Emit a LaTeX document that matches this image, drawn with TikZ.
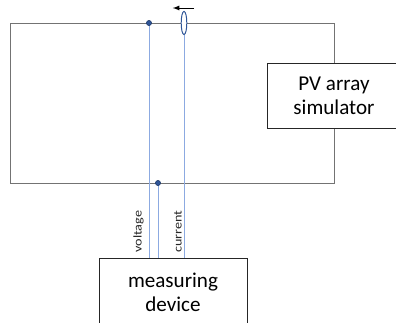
\documentclass[tikz,border=0pt]{standalone}
\usepackage{fontspec}
\setmainfont{Carlito}
\newfontfamily\labelfont[FakeStretch=1.2]{Carlito}
\usetikzlibrary{shapes.geometric}
\definecolor{probeblue}{RGB}{140,170,225}
\definecolor{dotblue}{RGB}{47,85,151}
\tikzset{
	wire/.style={draw=black!55, line width=.6pt},
	probe/.style={draw=probeblue, line width=.7pt},
	box/.style={draw=black!85, fill=white, line width=.7pt, inner sep=0pt, align=center, font=\fontsize{15}{17}\selectfont},
	dot/.style={circle, fill=dotblue, draw=dotblue!70!black, inner sep=0pt, minimum size=1.3mm},
	probelabel/.style={rotate=90, inner sep=0pt, text=black!85, font=\labelfont\fontsize{8.4}{10}\selectfont},
}
\begin{document}
\begin{tikzpicture}
\useasboundingbox (0,0) rectangle (9.9,8.05);
% circuit
\coordinate (ul) at (.25,7.475);
\coordinate (ur) at (8.35,7.475);
\coordinate (ll) at (.25,3.475);
\coordinate (lr) at (8.35,3.475);
\draw[wire] (ur) -- (ul) -- (ll) -- (lr) -- (ur);
% boxes
\node[box, minimum width=3.35cm, minimum height=1.625cm] (sim) at (8.35,5.6625) {PV array\\simulator};
\node[box, minimum width=3.7cm, minimum height=1.7cm] (meter) at (4.325,.75) {measuring\\device};
% probes
\coordinate (vtopanchor) at (3.725,7.475);
\coordinate (vbotanchor) at (3.95,3.475);
\draw[probe] (vtopanchor) -- (vtopanchor |- meter.north);
\draw[probe] (vbotanchor) -- (vbotanchor |- meter.north);
\node[dot] (vtop) at (vtopanchor) {};
\node[dot] (vbot) at (vbotanchor) {};
\node[draw=dotblue, fill=white, ellipse, inner sep=0pt, minimum width=.14cm, minimum height=.58cm, line width=.7pt] (clamp) at (4.6,7.475) {};
\coordinate (clampdown) at (clamp |- meter.north);
\draw[probe] (clamp) -- (clampdown);
% labels
\node[probelabel, anchor=south west] (vlabel) at (3.6,1.725) {voltage};
\node[probelabel, anchor=south west] (clabel) at (4.55,1.725) {current};
% direction
\coordinate (arrowstart) at (4.85,7.85);
\coordinate (arrowend) at (4.32,7.85);
\draw[-latex, line width=.6pt] (arrowstart) -- (arrowend);
\end{tikzpicture}
\end{document}
